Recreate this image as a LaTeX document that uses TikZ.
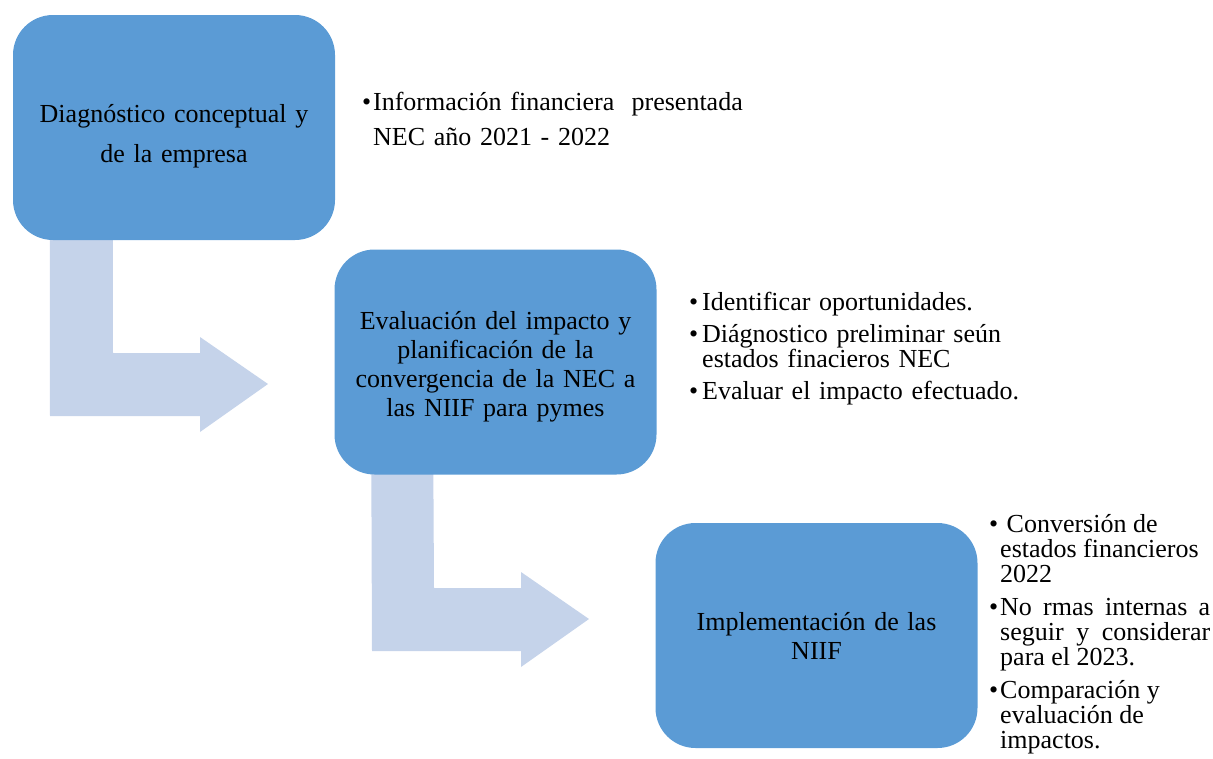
\documentclass[tikz,border=0pt]{standalone}
\usepackage{fontspec}
\setmainfont{Liberation Serif}
\usetikzlibrary{calc,backgrounds}
\definecolor{boxblue}{HTML}{5B9BD5}
\definecolor{arrowblue}{HTML}{C5D3EA}
\newcommand\bul[1][12pt]{\par\hangindent=#1\hangafter=1\noindent\makebox[#1][l]{\textbullet}}
\begin{document}
\begin{tikzpicture}[x=1pt,y=-1pt,
  stepbox/.style={fill=boxblue, rounded corners=40pt, minimum width=322pt, minimum height=225pt, inner sep=0pt},
  boxtext/.style={align=center, font=\fontsize{26}{29}\selectfont, text width=310pt, inner sep=0pt},
  arrowshape/.style={fill=arrowblue},
  listtext/.style={anchor=north west, inner sep=0pt, font=\fontsize{26}{25}\selectfont}]
\useasboundingbox (0,0) rectangle (1213,758);
\node[stepbox] (b1) at (174,127.5) {};
\node[stepbox] (b2) at (495.5,362) {};
\node[stepbox] (b3) at (816.5,635.5) {};
\node[boxtext] (l1) at ($(b1.center)+(0,9)$) {Diagnóstico conceptual y\\[11pt]de la empresa};
\node[boxtext] (l2) at ($(b2.center)+(0,5)$) {Evaluación del impacto y\\planificación de la\\convergencia de la NEC a\\las NIIF para pymes};
\node[boxtext] (l3) at (b3.center) {Implementación de las\\NIIF};
\begin{pgfonlayer}{background}
\fill[arrowshape] ($(b1.south west)+(37,-10)$) -- ($(b1.south west)+(100,-10)$) -- (113,353) -- (200,353) -- (200,337) -- (268,384) -- (200,432) -- (200,416) -- (50,416) -- cycle;
\fill[arrowshape] ($(b2.south west)+(37,-10)$) -- ($(b2.south west)+(99,-10)$) -- (434,588) -- (521,588) -- (521,572) -- (589,619) -- (521,667) -- (521,651) -- (372,651) -- cycle;
\end{pgfonlayer}
\node[listtext, text width=420pt, align=left, font=\fontsize{26}{35}\selectfont] (t1) at (362,75) {\bul[11pt]Información financiera\ \ presentada\newline NEC año 2021 - 2022\par};
\node[listtext, text width=340pt, align=left] (t2) at (689,278) {\setlength{\parskip}{7pt}\bul[13pt]Identificar oportunidades.\bul[13pt]Diágnostico preliminar seún\newline estados finacieros NEC\bul[13pt]Evaluar el impacto efectuado.\par};
\node[listtext, text width=221pt, align=justify] (t3) at (989,499) {\setlength{\parskip}{8pt}\bul[11pt]\ Conversión de\newline estados financieros\newline 2022\bul[11pt]No rmas internas a\linebreak seguir y considerar\linebreak para el 2023.\bul[11pt]Comparación y\newline evaluación de\newline impactos.\par};
\end{tikzpicture}
\end{document}
